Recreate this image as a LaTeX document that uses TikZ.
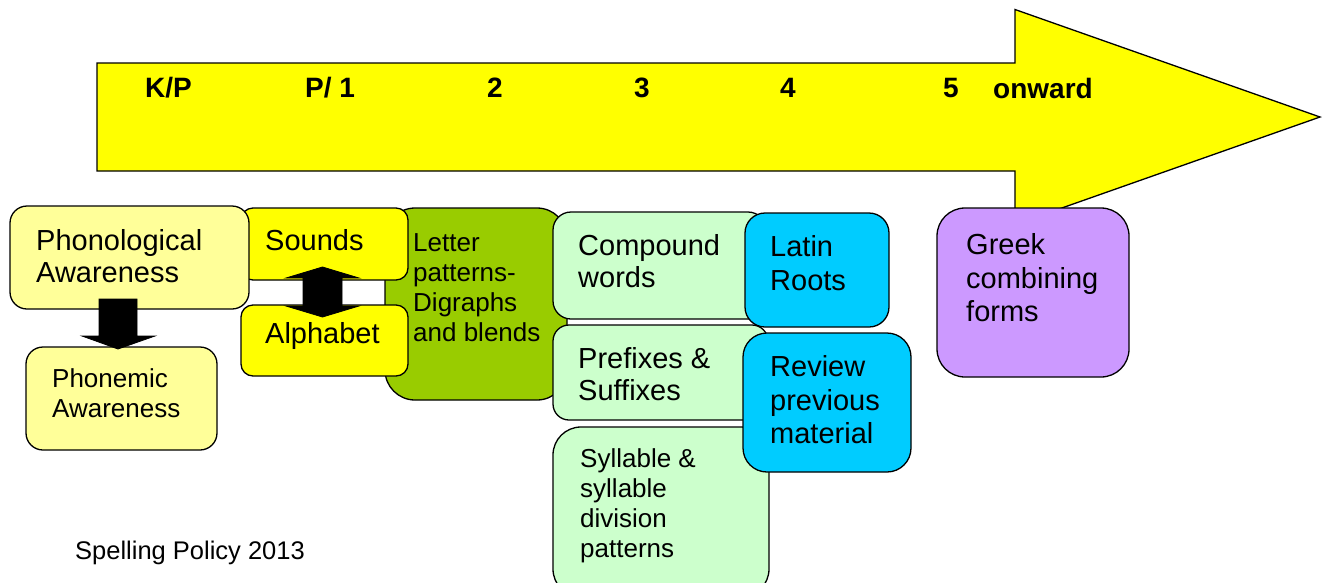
\documentclass[tikz,border=0pt]{standalone}
\usepackage{fontspec}
\setmainfont{Liberation Sans}
\begin{document}
\begin{tikzpicture}[x=1pt,y=-1pt,
  box/.style={draw=black,line width=1.3pt,inner sep=0pt,outer sep=0pt,anchor=north west},
  txt/.style={inner sep=0pt,align=left,anchor=west},
  big/.style={font=\fontsize{29}{32.5}\selectfont},
  mid/.style={font=\fontsize{26}{30}\selectfont},
  grade/.style={inner sep=0pt,font=\fontsize{28}{30}\selectfont\bfseries},
  blockarrow/.style={fill=black,draw=black,line width=0.8pt,line join=miter}]
\definecolor{paleyellow}{HTML}{FFFF99}
\definecolor{brightyellow}{HTML}{FFFF00}
\definecolor{leafgreen}{HTML}{99CC00}
\definecolor{mintgreen}{HTML}{CCFFCC}
\definecolor{skyblue}{HTML}{00CCFF}
\definecolor{lilac}{HTML}{CC99FF}
\useasboundingbox (0,0) rectangle (1322,582);
\clip (0,0) rectangle (1322,582);

% timeline arrow
\draw[fill=brightyellow,line width=1.3pt,line join=miter]
  (97,63) -- (1015,63) -- (1015,9.5) -- (1320,117) -- (1015,224.5)
  -- (1015,171) -- (97,171) -- cycle;
\node[grade,anchor=west] (gKP) at (145,88) {K/P};
\node[grade,anchor=west] (gP1) at (305,88) {P/ 1};
\node[grade] (g2) at (495,88) {2};
\node[grade] (g3) at (642,88) {3};
\node[grade] (g4) at (788,88) {4};
\node[grade] (g5) at (951,88) {5};
\node[grade,anchor=west] (gon) at (993,88) {onward};

% letter patterns
\node[box,fill=leafgreen,minimum width=182pt,minimum height=192pt,rounded corners=30pt] (letter) at (385,208) {};
\node[txt,mid] (letterT) at (413,288) {Letter\\patterns-\\Digraphs\\and blends};

% sounds and alphabet
\node[box,fill=brightyellow,minimum width=167pt,minimum height=72pt,rounded corners=12pt] (sounds) at (241,208) {};
\node[txt,big] (soundsT) at (265,240) {Sounds};
\node[box,fill=brightyellow,minimum width=167pt,minimum height=71pt,rounded corners=12pt] (alpha) at (241,305) {};
\node[txt,big] (alphaT) at (265,336) {Alphabet};

% phonological / phonemic awareness
\node[box,fill=paleyellow,minimum width=239pt,minimum height=103pt,rounded corners=17pt] (phon) at (10,206) {};
\node[txt,big] (phonT) at (36,256) {Phonological\\Awareness};
\node[box,fill=paleyellow,minimum width=191pt,minimum height=103pt,rounded corners=17pt] (phonem) at (26,347) {};
\node[txt,mid] (phonemT) at (52,393) {Phonemic\\Awareness};

% block arrows
\draw[blockarrow] (99,299) -- (137,299) -- (137,336) -- (155,336) -- (118,349)
  -- (82,336) -- (99,336) -- cycle;
\draw[blockarrow] (322.5,267) -- (359,278) -- (342,278) -- (342,306) -- (359,306)
  -- (322.5,317) -- (286,306) -- (303,306) -- (303,278) -- (286,278) -- cycle;

% word-structure boxes
\node[box,fill=mintgreen,minimum width=213pt,minimum height=107pt,rounded corners=18pt] (compound) at (553,212) {};
\node[txt,big] (compoundT) at (578,261) {Compound\\words};
\node[box,fill=mintgreen,minimum width=215pt,minimum height=95pt,rounded corners=16pt] (prefix) at (553,325) {};
\node[txt,big] (prefixT) at (578,374) {Prefixes \&\\Suffixes};
\node[box,fill=mintgreen,minimum width=216pt,minimum height=170pt,rounded corners=28pt] (syll) at (553,427) {};
\node[txt,mid] (syllT) at (580,506) {Syllable \&\\syllable\\division\\patterns};

% roots
\node[box,fill=skyblue,minimum width=144pt,minimum height=114pt,rounded corners=20pt] (latin) at (745,213) {};
\node[txt,big,font=\fontsize{29}{34}\selectfont] (latinT) at (770,263) {Latin\\Roots};
\node[box,fill=skyblue,minimum width=168pt,minimum height=139pt,rounded corners=24pt] (review) at (743,333) {};
\node[txt,big,font=\fontsize{29}{33.5}\selectfont] (reviewT) at (770,400) {Review\\previous\\material};
\node[box,fill=lilac,minimum width=192pt,minimum height=169pt,rounded corners=28pt] (greek) at (937,208) {};
\node[txt,big,font=\fontsize{29}{33.5}\selectfont] (greekT) at (966,278) {Greek\\combining\\forms};

% footer
\node[txt,font=\fontsize{25.5}{28}\selectfont] (footer) at (75,553) {Spelling Policy 2013};
\end{tikzpicture}
\end{document}
